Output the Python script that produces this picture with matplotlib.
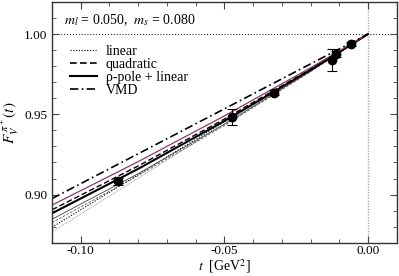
import matplotlib
matplotlib.use("Agg")
import matplotlib.pyplot as plt
from matplotlib.ticker import MultipleLocator

plt.rcParams['font.family'] = ['Liberation Serif', 'DejaVu Serif']
plt.rcParams['mathtext.fontset'] = 'stix'

# data points
t_data = [-0.0869, -0.0473, -0.0326, -0.0126, -0.0110, -0.0060]
f_data = [0.9082, 0.9486, 0.9634, 0.9840, 0.9877, 0.9938]
f_err = [0.0020, 0.0050, 0.0015, 0.0067, 0.0020, 0.0010]

# fit curves, sampled at these t values
t_fit = [-0.11, -0.08, -0.05, -0.02, 0.0]
vmd = [0.8975, 0.9254, 0.9534, 0.9814, 1.0]
purple_fit = [0.8934, 0.9205, 0.9490, 0.9790, 1.0]
quad = [0.8905, 0.9178, 0.9470, 0.9782, 1.0]
rho = [0.8883, 0.9160, 0.9458, 0.9776, 1.0]
band_solid = [0.8846, 0.9130, 0.9438, 0.9768, 1.0]
band_dashed = [0.8825, 0.9118, 0.9430, 0.9765, 1.0]
linear = [0.8796, 0.9124, 0.9453, 0.9781, 1.0]
band_dotted = [0.8767, 0.9102, 0.9440, 0.9776, 1.0]

fig = plt.figure(figsize=(3.99, 2.76), dpi=100)
ax = fig.add_axes([0.1303, 0.1207, 0.8639, 0.8721])

ax.axhline(1.0, color='black', lw=0.7, ls=(0, (1, 2)), zorder=1)
ax.axvline(0.0, color='#aaaaaa', lw=1.0, ls=(0, (1, 1)), zorder=1)

ax.plot(t_fit, band_dotted, color='#888888', lw=0.6, ls=(0, (1, 1)))
ax.plot(t_fit, linear, color='black', lw=0.8, ls=(0, (1, 1.5)))
ax.plot(t_fit, band_dashed, color='#555555', lw=0.6, ls=(0, (3, 2)))
ax.plot(t_fit, band_solid, color='#444444', lw=0.6)
ax.plot(t_fit, quad, color='black', lw=1.0, ls=(0, (4, 2)))
ax.plot(t_fit, rho, color='black', lw=1.5)
ax.plot(t_fit, purple_fit, color='#8b3a6a', lw=0.9)
ax.plot(t_fit, vmd, color='black', lw=1.2, ls=(0, (5, 2, 1, 2)))

ax.errorbar(t_data, f_data, yerr=f_err, fmt='o', color='black', ms=6,
            elinewidth=0.8, capsize=3.5, capthick=0.8, zorder=5)

# legend handles
ax.plot([], [], color='black', lw=0.8, ls=(0, (1, 1.5)), label='linear')
ax.plot([], [], color='black', lw=1.2, ls=(0, (4, 2)), label='quadratic')
ax.plot([], [], color='black', lw=1.5, label='ρ-pole + linear')
ax.plot([], [], color='black', lw=1.2, ls=(0, (5, 2, 1, 2)), label='VMD')
h, l = ax.get_legend_handles_labels()
ax.legend(h[-4:], l[-4:], loc='upper left', bbox_to_anchor=(0.035, 0.845),
          frameon=False, fontsize=10, handlelength=2.0, labelspacing=0.0,
          handletextpad=0.6, borderaxespad=0)

ax.text(0.035, 0.925, r'$m_l$ = 0.050,  $m_s$ = 0.080', transform=ax.transAxes,
        fontsize=10, va='center', ha='left')

ax.set_xlim(-0.11, 0.01)
ax.set_ylim(0.87, 1.02)
ax.xaxis.set_major_locator(MultipleLocator(0.05))
ax.xaxis.set_minor_locator(MultipleLocator(0.01))
ax.yaxis.set_major_locator(MultipleLocator(0.05))
ax.yaxis.set_minor_locator(MultipleLocator(0.01))
ax.xaxis.set_major_formatter(plt.FuncFormatter(lambda v, p: f'{v:.2f}'))
ax.yaxis.set_major_formatter(plt.FuncFormatter(lambda v, p: f'{v:.2f}'))
ax.tick_params(which='both', direction='in', top=True, right=True, labelsize=9.5, color='#444444')
ax.tick_params(which='major', length=5, width=0.8)
ax.tick_params(which='minor', length=3, width=0.6)
ax.tick_params(axis='x', pad=2)
for s in ax.spines.values():
    s.set_linewidth(1.0)
    s.set_color('#333333')

ax.set_xlabel(r'$t$  [GeV$^2$]', fontsize=10, labelpad=0)
ax.set_ylabel(r'$F_V^{\,\pi^+}(t)$', fontsize=11, labelpad=2)

fig.savefig('out.png', dpi=100)
